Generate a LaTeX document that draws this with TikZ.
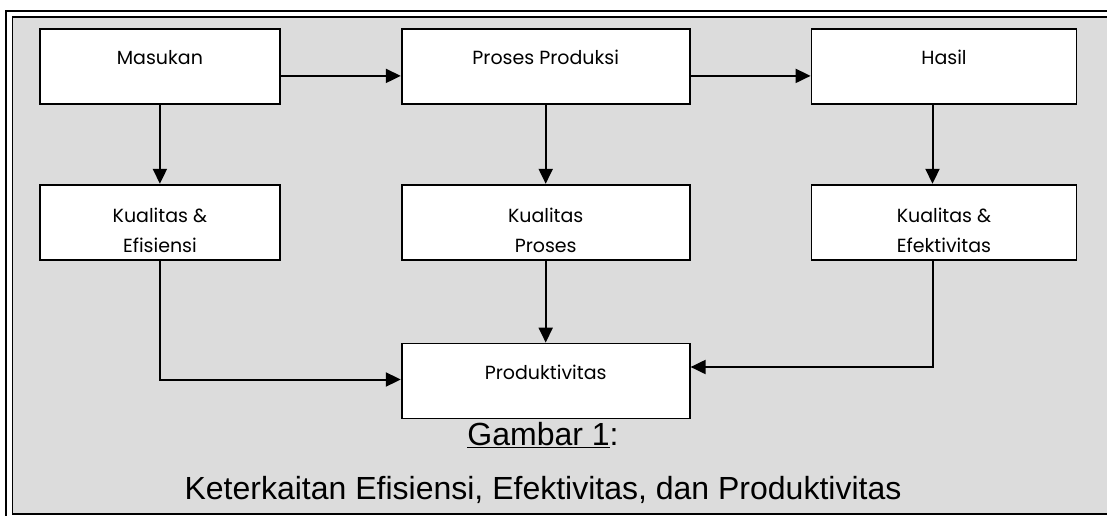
\documentclass[tikz,border=0pt]{standalone}
\usepackage{fontspec}
\setmainfont{Liberation Sans}
\newfontfamily\boxfont{Poppins}
\usepackage{xcolor}
\usetikzlibrary{arrows.meta}
\usetikzlibrary{positioning}
\definecolor{panelgray}{HTML}{DCDCDC}
\tikzset{
	box node/.style={rectangle,draw,fill=white,line width=1.8pt,minimum height=75pt,inner sep=0pt,
		font=\boxfont\fontsize{19}{30}\selectfont,align=center,text height=14pt,text depth=17pt},
	two line/.style={text height=67pt,text depth=6pt},
	flow/.style={->,line width=2pt},
	caption/.style={font=\fontsize{32}{54}\selectfont,align=center}
}

\begin{document}
\begin{tikzpicture}[x=1pt,y=-1pt,>={Triangle[length=15pt,width=14pt]}]
	\useasboundingbox (0,0) rectangle (1107,516);
	\draw[line width=2.8pt] (6,11) rectangle (1125,525);
	\draw[fill=panelgray,line width=1.8pt] (12.5,17) rectangle (1119,514);
	\node [box node,minimum width=240pt,anchor=north west] (masuk) at (39,28) {Masukan};
	\node [box node,minimum width=288pt,right=120pt of masuk] (proses) {Proses Produksi};
	\node [box node,minimum width=265pt,right=120pt of proses] (hasil) {Hasil};
	\node [box node,two line,minimum width=240pt,below=79pt of masuk] (efisiensi) {Kualitas \&\\Efisiensi};
	\node [box node,two line,minimum width=288pt,below=79pt of proses] (kproses) {Kualitas\\Proses};
	\node [box node,two line,minimum width=265pt,below=79pt of hasil] (efektiv) {Kualitas \&\\Efektivitas};
	\node [box node,minimum width=288pt,below=82pt of kproses] (produktiv) {Produktivitas};
	\node [caption] (judul) at (543,463) {\underline{Gambar 1}:\\Keterkaitan Efisiensi, Efektivitas, dan Produktivitas};
	\draw[flow] ([yshift=-9.5pt]masuk.east) -- ([yshift=-9.5pt]proses.west);
	\draw[flow] ([yshift=-9.5pt]proses.east) -- ([yshift=-9.5pt]hasil.west);
	\draw[flow] (masuk) -- (efisiensi);
	\draw[flow] (proses) -- (kproses);
	\draw[flow] ([xshift=-11.5pt]hasil.south) -- ([xshift=-11.5pt]efektiv.north);
	\draw[flow] (kproses) -- (produktiv);
	\draw[flow] (efisiensi.south) |- ([yshift=1.5pt]produktiv.west);
	\draw[flow] ([xshift=-11.5pt]efektiv.south) |- ([yshift=14pt]produktiv.east);
\end{tikzpicture}
\end{document}
